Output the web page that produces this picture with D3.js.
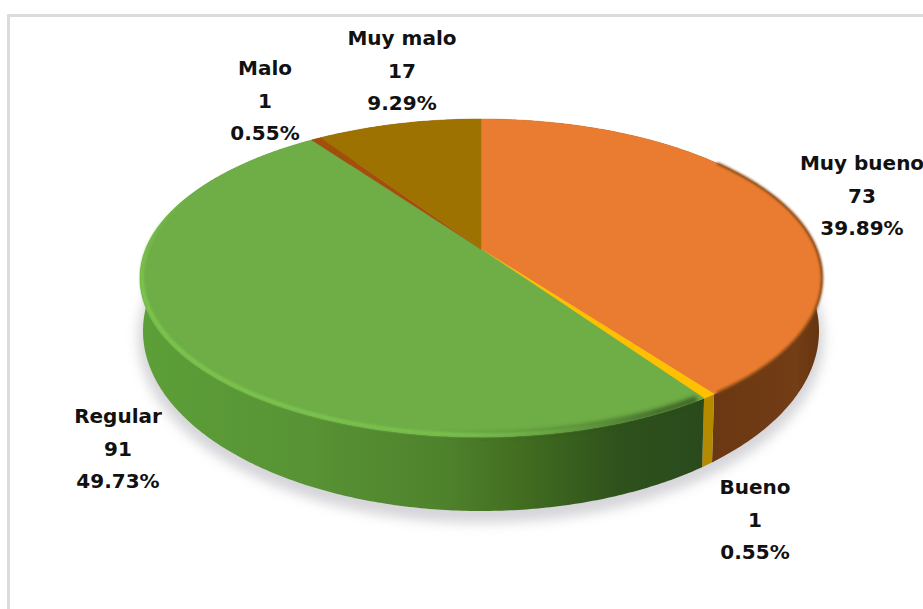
<!DOCTYPE html>
<html>
<head>
<meta charset="utf-8">
<script src="https://cdn.jsdelivr.net/npm/d3@7"></script>
<style>
  html, body { margin: 0; padding: 0; background: #fff; }
  svg { display: block; }
  text { font-family: "DejaVu Sans", sans-serif; font-weight: bold; font-size: 20px; fill: #111; }
</style>
</head>
<body>
<div id="chart"></div>
<script>
// Survey ratings, clockwise from twelve o'clock
const categories = ["Muy bueno", "Bueno", "Regular", "Malo", "Muy malo"];
const counts = [73, 1, 91, 1, 17];
const topColors = ["#e97c30", "#ffc000", "#6fad47", "#a34e0c", "#9e7200"];
const labelCenters = [[862, 170], [755, 494], [118, 423], [265, 75], [402, 45]];

const width = 923, height = 609, lineStep = 32.5;
const total = d3.sum(counts);
const percent = d3.format(".2f");

// Tilted disc: the top and bottom faces are ellipses, and the tilt shifts the
// disc centre toward the far edge by the factor `tilt`.
const topFace = { cx: 481, cy: 278, rx: 341, ry: 159 };
const bottomFace = { cx: 481, cy: 331, rx: 338, ry: 180 };
const tilt = -0.182;
const hub = [topFace.cx, topFace.cy + topFace.ry * tilt];

function project(face, angle) {
  const u = Math.sin(angle), v = -Math.cos(angle);
  const d = 1 + tilt * v;
  return [
    face.cx + face.rx * u * Math.sqrt(1 - tilt * tilt) / d,
    face.cy + face.ry * (v + tilt) / d
  ];
}
const anglesBetween = (a, b) => {
  const n = Math.max(2, Math.ceil((b - a) / 0.01));
  return d3.range(n + 1).map(i => a + (b - a) * i / n);
};

const svg = d3.select("#chart").append("svg").attr("width", width).attr("height", height);
const defs = svg.append("defs");
const line = d3.line();
const arcs = d3.pie().sort(null).startAngle(0).endAngle(2 * Math.PI)(counts);

function blur(id, dev) {
  defs.append("filter").attr("id", id)
    .attr("x", "-20%").attr("y", "-20%").attr("width", "140%").attr("height", "140%")
    .append("feGaussianBlur").attr("stdDeviation", dev);
}
blur("soft-shadow", 6);
blur("soft-edge", 2.2);
blur("fine-edge", 1.3);

function sideGradient(id, x1, x2, stops) {
  const g = defs.append("linearGradient").attr("id", id)
    .attr("gradientUnits", "userSpaceOnUse")
    .attr("x1", x1).attr("x2", x2).attr("y1", 0).attr("y2", 0);
  stops.forEach(([o, c, a]) => g.append("stop")
    .attr("offset", o).attr("stop-color", c).attr("stop-opacity", a === undefined ? 1 : a));
}
sideGradient("wall-green", 140, 702, [
  [0, "#5c9f38"], [0.3, "#589335"], [0.55, "#4e812b"], [0.68, "#426d20"],
  [0.85, "#2f521c"], [1, "#2a4a1c"]
]);
sideGradient("wall-orange", 702, 820, [[0, "#693713"], [0.8, "#733d15"], [1, "#653411"]]);
sideGradient("rim-green", 140, 660, [
  [0, "#7cc54e"], [0.6, "#78c04c"], [0.82, "#78c04c", 0.5], [1, "#78c04c", 0]
]);
sideGradient("seam-dark", 440, 700, [[0, "#2f521c", 0], [0.5, "#2f521c", 0.55], [1, "#2a4a1c", 0.8]]);
const wallFills = ["url(#wall-orange)", "#b38a00", "url(#wall-green)", "#7a3a0a", "#6e5000"];

// Vertical fade so the rim bevel dissolves toward the far side of the disc
const rimFade = defs.append("linearGradient").attr("id", "rim-fade")
  .attr("gradientUnits", "userSpaceOnUse")
  .attr("x1", 0).attr("x2", 0).attr("y1", 190).attr("y2", 290);
rimFade.append("stop").attr("offset", 0).attr("stop-color", "#000");
rimFade.append("stop").attr("offset", 1).attr("stop-color", "#fff");
defs.append("mask").attr("id", "rim-mask")
  .attr("maskUnits", "userSpaceOnUse")
  .attr("x", 0).attr("y", 0).attr("width", width).attr("height", height)
  .append("rect").attr("width", width).attr("height", height).attr("fill", "url(#rim-fade)");

// Outer frame lines
svg.append("rect").attr("x", 7).attr("y", 14).attr("width", width - 7).attr("height", 3).attr("fill", "#dcdcdc");
svg.append("rect").attr("x", 7).attr("y", 14).attr("width", 3).attr("height", height - 14).attr("fill", "#dcdcdc");

// Soft cast shadow under the disc
svg.append("ellipse")
  .attr("cx", bottomFace.cx).attr("cy", bottomFace.cy + 7)
  .attr("rx", bottomFace.rx + 5).attr("ry", bottomFace.ry + 5)
  .attr("fill", "#c4c4ca").attr("opacity", 0.7)
  .attr("filter", "url(#soft-shadow)");

// Side walls, joined from the top rim to the bottom rim of each slice
svg.append("g").selectAll("path").data(arcs).join("path")
  .attr("fill", (d, i) => wallFills[i])
  .attr("d", d => {
    const a = anglesBetween(d.startAngle, d.endAngle);
    return line(a.map(t => project(topFace, t))
      .concat(a.slice().reverse().map(t => project(bottomFace, t)))) + "Z";
  });

// Top face slices meet at the shifted disc centre
svg.append("g").selectAll("path").data(arcs).join("path")
  .attr("fill", (d, i) => topColors[i])
  .attr("stroke", (d, i) => topColors[i]).attr("stroke-width", 0.5)
  .attr("d", d => {
    const a = anglesBetween(d.startAngle, d.endAngle);
    return line([hub].concat(a.map(t => project(topFace, t)))) + "Z";
  });

// Bevel along the front rim of the green slice, set just inside the face
const green = arcs[2];
const insetFace = { cx: topFace.cx, cy: topFace.cy - 1, rx: topFace.rx - 2, ry: topFace.ry - 1 };
const rimPath = line(anglesBetween(green.startAngle + 0.02, green.startAngle + 2.6)
  .map(t => project(insetFace, t)));
svg.append("path").attr("d", rimPath).attr("fill", "none")
  .attr("stroke", "url(#seam-dark)").attr("stroke-width", 6)
  .attr("filter", "url(#soft-edge)");
svg.append("g").attr("mask", "url(#rim-mask)")
  .append("path").attr("d", rimPath).attr("fill", "none")
  .attr("stroke", "url(#rim-green)").attr("stroke-width", 4)
  .attr("filter", "url(#fine-edge)");

// Dark soft edge on the orange rim where it turns into the wall
const orangeRim = line(anglesBetween(arcs[0].startAngle + 0.9, arcs[0].endAngle - 0.01).map(t => project(topFace, t)));
svg.append("path").attr("d", orangeRim).attr("fill", "none")
  .attr("stroke", "#8a4a18").attr("stroke-width", 2.5)
  .attr("filter", "url(#fine-edge)");

// Three-line data labels: category, count, share
const labels = svg.append("g").selectAll("text").data(categories).join("text")
  .attr("text-anchor", "middle")
  .attr("transform", (d, i) => `translate(${labelCenters[i][0]},${labelCenters[i][1]})`);
labels.each(function (name, i) {
  const rows = [name, counts[i], percent(counts[i] / total * 100) + "%"];
  d3.select(this).selectAll("tspan").data(rows).join("tspan")
    .attr("x", 0).attr("y", (r, j) => j * lineStep).text(r => r);
});
</script>
</body>
</html>
